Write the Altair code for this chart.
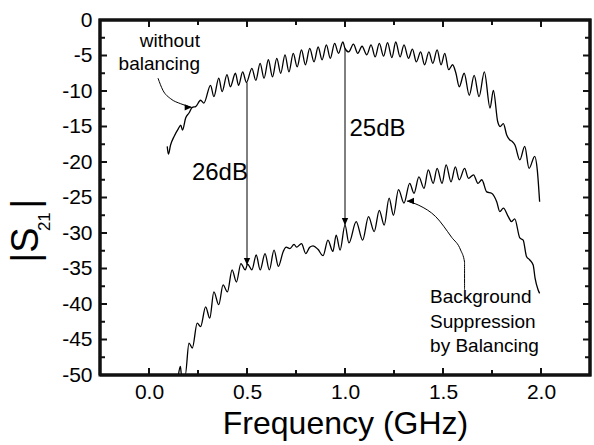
import altair as alt
import pandas as pd

# ---- data ----
up_f = [0.093, 0.099, 0.110, 0.128, 0.150, 0.162, 0.171, 0.187, 0.204, 0.221,
        0.238, 0.263, 0.280, 0.314, 0.331, 0.356, 0.373, 0.398, 0.415, 0.441,
        0.457, 0.478, 0.497, 0.525, 0.545, 0.567, 0.587, 0.609, 0.630, 0.652,
        0.672, 0.694, 0.714, 0.736, 0.756, 0.778, 0.798, 0.820, 0.842, 0.863,
        0.883, 0.905, 0.925, 0.947, 0.967, 0.989, 1.000, 1.019, 1.043, 1.065,
        1.087, 1.111, 1.133, 1.154, 1.175, 1.197, 1.217, 1.239, 1.259, 1.281,
        1.301, 1.324, 1.344, 1.364, 1.386, 1.406, 1.428, 1.448, 1.470, 1.490,
        1.509, 1.529, 1.549, 1.566, 1.583, 1.608, 1.634, 1.659, 1.684, 1.711,
        1.740, 1.757, 1.779, 1.791, 1.808, 1.825, 1.841, 1.853, 1.867, 1.892,
        1.917, 1.939, 1.968, 1.981, 1.993]
up_db = [-17.8, -18.9, -17.6, -16.4, -15.3, -14.8, -15.5, -13.8, -13.1, -12.3,
         -12.2, -11.3, -11.7, -9.2, -10.8, -8.2, -10.1, -7.7, -9.4, -7.5,
         -9.2, -7.3, -8.8, -6.8, -8.5, -6.1, -8.2, -5.6, -8.0, -5.4,
         -7.5, -4.9, -7.3, -4.7, -6.6, -4.2, -6.3, -4.0, -5.9, -3.8,
         -5.6, -3.5, -5.4, -3.3, -4.7, -3.1, -4.0, -4.5, -3.4, -4.7,
         -3.7, -4.9, -3.5, -5.2, -3.3, -5.1, -3.2, -5.3, -3.1, -5.2,
         -3.5, -5.4, -4.1, -5.9, -4.5, -6.3, -4.5, -6.1, -4.2, -6.3,
         -4.7, -7.0, -6.3, -7.5, -9.4, -7.5, -10.6, -7.8, -10.8, -7.3,
         -12.4, -9.9, -14.3, -15.0, -14.6, -16.2, -16.9, -17.1, -17.6, -19.7,
         -17.8, -20.9, -19.2, -21.1, -25.6]

lo_f = [0.150, 0.160, 0.166, 0.185, 0.204, 0.221, 0.246, 0.263, 0.289, 0.310,
        0.331, 0.356, 0.378, 0.400, 0.424, 0.446, 0.469, 0.491, 0.503, 0.525,
        0.547, 0.567, 0.592, 0.614, 0.638, 0.660, 0.685, 0.700, 0.719, 0.740,
        0.753, 0.778, 0.800, 0.820, 0.837, 0.862, 0.888, 0.913, 0.938, 0.955,
        0.975, 1.000, 1.020, 1.057, 1.090, 1.120, 1.149, 1.175, 1.200, 1.225,
        1.247, 1.273, 1.301, 1.330, 1.352, 1.377, 1.403, 1.425, 1.450, 1.470,
        1.495, 1.516, 1.541, 1.563, 1.583, 1.610, 1.630, 1.656, 1.678, 1.698,
        1.723, 1.748, 1.774, 1.790, 1.808, 1.833, 1.850, 1.866, 1.892, 1.909,
        1.926, 1.943, 1.960, 1.970, 1.985, 1.993]
lo_db = [-50.0, -48.8, -50.0, -50.0, -45.5, -46.2, -42.7, -43.2, -40.4, -42.0,
         -38.3, -40.1, -37.3, -38.3, -35.2, -36.9, -34.3, -35.2, -34.4, -35.2,
         -33.1, -35.2, -32.9, -35.2, -32.4, -34.7, -32.6, -32.0, -32.2, -31.6,
         -32.0, -31.5, -32.9, -32.0, -31.8, -32.3, -33.2, -31.0, -32.6, -30.3,
         -32.4, -28.9, -31.4, -28.4, -31.0, -27.7, -29.8, -26.8, -28.9, -25.1,
         -27.5, -23.9, -25.8, -23.0, -24.4, -22.1, -23.7, -21.1, -23.0, -20.9,
         -23.0, -20.4, -22.8, -20.7, -22.5, -20.9, -22.3, -21.8, -23.0, -22.5,
         -24.2, -24.4, -25.6, -27.0, -26.5, -27.7, -28.4, -28.0, -30.7, -31.0,
         -33.3, -33.8, -34.5, -36.4, -38.0, -38.5]

# difference arrows (frequency, top dB, bottom dB)
arr_f = [0.5, 1.0]
arr_top = [-8.8, -4.0]
arr_bot = [-34.5, -28.9]

# curved annotation arrows
ann1_f = [0.046, 0.071, 0.111, 0.162, 0.218]
ann1_db = [-8.2, -9.9, -11.1, -11.8, -12.3]
ann2_f = [1.610, 1.610, 1.590, 1.544, 1.463, 1.377, 1.316]
ann2_db = [-38.0, -34.1, -32.4, -30.6, -27.7, -26.1, -25.5]

# text annotations
txt_label = ["26dB", "25dB"]
txt_f = [0.362, 1.166]
txt_db = [-21.5, -15.4]

wb_label = ["without", "balancing"]
wb_f = [0.260, 0.260]
wb_db = [-3.8, -7.0]

bg_label = ["Background", "Suppression", "by Balancing"]
bg_f = [1.434, 1.434, 1.434]
bg_db = [-39.9, -43.4, -46.8]

x_major = [0.0, 0.5, 1.0, 1.5, 2.0]
x_minor = [0.25, 0.75, 1.25, 1.75]
y_major = [-45, -40, -35, -30, -25, -20, -15, -10, -5]
y_minor = [-47.5, -42.5, -37.5, -32.5, -27.5, -22.5, -17.5, -12.5, -7.5, -2.5]
y_labels = [-50, -45, -40, -35, -30, -25, -20, -15, -10, -5, 0]

FONT = "Liberation Sans"
X_LO, X_HI = -0.25, 2.25
Y_LO, Y_HI = -50, 0
XS = alt.Scale(domain=[X_LO, X_HI], nice=False, zero=False)
YS = alt.Scale(domain=[Y_LO, Y_HI], nice=False, zero=False)

xaxis = alt.Axis(values=x_major, labelExpr="format(datum.value, '.1f')", ticks=False,
                 domain=False, grid=False, labelFontSize=21, labelFont=FONT,
                 labelColor="black", labelPadding=6, labelFlush=False,
                 title="Frequency (GHz)", titleFontSize=32, titleFont=FONT,
                 titleFontWeight="normal", titleColor="black", titlePadding=6)
yaxis = alt.Axis(values=y_labels, labelExpr="'' + datum.value", ticks=False,
                 domain=False, grid=False, labelFontSize=21, labelFont=FONT,
                 labelColor="black", labelPadding=8, labelFlush=False, title=None)


def X(field="f"):
    return alt.X(field, type="quantitative", scale=XS, axis=xaxis)


def Y(field="db"):
    return alt.Y(field, type="quantitative", scale=YS, axis=yaxis)


# ---- plot frame (thick) and inward ticks as line segments ----
frame_df = pd.DataFrame({"g": ["frame"] * 5, "i": range(5),
                         "f": [X_LO, X_HI, X_HI, X_LO, X_LO],
                         "db": [Y_LO, Y_LO, Y_HI, Y_HI, Y_LO]})
frame = alt.Chart(frame_df).mark_line(color="#111111", strokeWidth=3).encode(
    x=X(), y=Y(), detail="g:N", order="i:Q")

XL_MAJ, XL_MIN = 7 / 7.1, 5 / 7.1
YL_MAJ, YL_MIN = 7 / 196, 5 / 196
seg = []
k = 0
for v, L in [(v, XL_MAJ) for v in x_major] + [(v, XL_MIN) for v in x_minor]:
    k += 1
    seg += [{"g": f"b{k}", "i": 0, "f": v, "db": Y_LO}, {"g": f"b{k}", "i": 1, "f": v, "db": Y_LO + L}]
    seg += [{"g": f"t{k}", "i": 0, "f": v, "db": Y_HI}, {"g": f"t{k}", "i": 1, "f": v, "db": Y_HI - L}]
for v, L in [(v, YL_MAJ) for v in y_major] + [(v, YL_MIN) for v in y_minor]:
    k += 1
    seg += [{"g": f"l{k}", "i": 0, "f": X_LO, "db": v}, {"g": f"l{k}", "i": 1, "f": X_LO + L, "db": v}]
    seg += [{"g": f"r{k}", "i": 0, "f": X_HI, "db": v}, {"g": f"r{k}", "i": 1, "f": X_HI - L, "db": v}]
ticks = alt.Chart(pd.DataFrame(seg)).mark_line(color="#111111", strokeWidth=2).encode(
    x=X(), y=Y(), detail="g:N", order="i:Q")

up_df = pd.DataFrame({"f": up_f, "db": up_db, "i": range(len(up_f))})
lo_df = pd.DataFrame({"f": lo_f, "db": lo_db, "i": range(len(lo_f))})

upper = alt.Chart(up_df).mark_line(color="black", strokeWidth=1.3, interpolate="monotone").encode(
    x=X(), y=Y(), order="i:Q")
lower = alt.Chart(lo_df).mark_line(color="black", strokeWidth=1.3, interpolate="monotone").encode(
    x=X(), y=Y(), order="i:Q")

arr_df = pd.DataFrame({"f": arr_f, "db": arr_top, "db2": arr_bot})
arrows = alt.Chart(arr_df).mark_rule(color="black", strokeWidth=1).encode(
    x=X(), y=Y(), y2="db2:Q")

a1 = pd.DataFrame({"f": ann1_f, "db": ann1_db, "i": range(len(ann1_f))})
a2 = pd.DataFrame({"f": ann2_f, "db": ann2_db, "i": range(len(ann2_f))})
ann1 = alt.Chart(a1).mark_line(color="black", strokeWidth=1, interpolate="monotone").encode(
    x=X(), y=Y(), order="i:Q")
ann2 = alt.Chart(a2).mark_line(color="black", strokeWidth=1, interpolate="monotone").encode(
    x=X(), y=Y(), order="i:Q")

DOWN = "M0,0L-0.45,-1L0.45,-1Z"
RIGHT = "M0,0L-1,-0.45L-1,0.45Z"
LEFT = "M0,0L1,-0.45L1,0.45Z"
head_df = pd.DataFrame({
    "f": [arr_f[0], arr_f[1], ann1_f[-1], ann2_f[-1]],
    "db": [arr_bot[0], arr_bot[1], ann1_db[-1], ann2_db[-1]],
    "shape": [DOWN, DOWN, RIGHT, LEFT],
})
heads = alt.Chart(head_df).mark_point(filled=True, color="black", opacity=1,
                                      strokeWidth=0, size=200).encode(
    x=X(), y=Y(), shape=alt.Shape("shape:N", scale=None))

t_df = pd.DataFrame({"f": txt_f, "db": txt_db, "t": txt_label})
texts = alt.Chart(t_df).mark_text(font=FONT, fontSize=24, color="black",
                                  baseline="middle", align="center").encode(
    x=X(), y=Y(), text="t:N")

wb_df = pd.DataFrame({"f": wb_f, "db": wb_db, "t": wb_label})
wb = alt.Chart(wb_df).mark_text(font=FONT, fontSize=19, color="black",
                                baseline="alphabetic", align="right").encode(
    x=X(), y=Y(), text="t:N")

bg_df = pd.DataFrame({"f": bg_f, "db": bg_db, "t": bg_label})
bg = alt.Chart(bg_df).mark_text(font=FONT, fontSize=19, color="black",
                                baseline="alphabetic", align="left").encode(
    x=X(), y=Y(), text="t:N")

# y-axis title |S21| built from pieces
yt_df = pd.DataFrame({"f": [-0.62, -0.62], "db": [-31.7, -25.9], "t": ["|S", "|"]})
ytitle = alt.Chart(yt_df).mark_text(font=FONT, fontSize=38, color="black", angle=270,
                                    baseline="middle", align="center").encode(
    x=X(), y=Y(), text="t:N")
ys_df = pd.DataFrame({"f": [-0.533], "db": [-28.4], "t": ["21"]})
ysub = alt.Chart(ys_df).mark_text(font=FONT, fontSize=17, color="black", angle=270,
                                  baseline="middle", align="center").encode(
    x=X(), y=Y(), text="t:N")

chart = alt.layer(
    upper, lower, arrows, ann1, ann2, heads, texts, wb, bg, ytitle, ysub, ticks, frame
).properties(
    width=490, height=355,
    autosize=alt.AutoSizeParams(type="none"),
    padding={"left": 100, "top": 20, "right": 4, "bottom": 70},
).configure_view(stroke="#111111", strokeWidth=3)

chart.save("out.html", embed_options={"renderer": "svg", "actions": False})
